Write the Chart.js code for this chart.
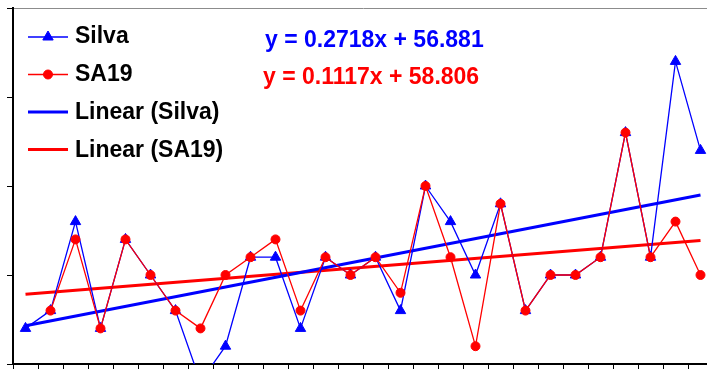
<!DOCTYPE html>
<html>
<head>
<meta charset="utf-8">
<script src="https://cdn.jsdelivr.net/npm/chart.js@4/dist/chart.umd.min.js"></script>
<style>
  html, body { margin: 0; padding: 0; background: #fff; overflow: hidden; }
  #wrap { position: relative; width: 720px; height: 380px; }
</style>
</head>
<body>
<div id="wrap"><canvas id="c" width="720" height="380"></canvas></div>
<script>
// Categories (sample number along the series)
const categories = ['1','2','3','4','5','6','7','8','9','10','11','12','13','14',
                    '15','16','17','18','19','20','21','22','23','24','25','26','27','28'];

// Measured values
const silva = [57,58,63,57,62,60,58,54,56,61,61,57,61,60,61,58,65,63,60,64,58,60,60,61,68,61,72,67];
const sa19  = [null,58,62,57,62,60,58,57,60,61,62,58,61,60,61,59,65,61,56,64,58,60,60,61,68,61,63,60];

// Linear trend coefficients (y = slope * x + intercept, x = category number)
const silvaSlope = 0.2718, silvaIntercept = 56.881;
const sa19Slope  = 0.1117, sa19Intercept  = 58.806;

// Value axis
const yMin = 55, yMax = 75, yStep = 5;

const BLUE = '#0000ff';
const RED = '#ff0000';

function trendEnds(slope, intercept) {
  const first = 1, last = categories.length;
  return [
    { x: categories[first - 1], y: slope * first + intercept },
    { x: categories[last - 1],  y: slope * last + intercept }
  ];
}

const legendItems = [
  { text: 'Silva',          color: BLUE, width: 1.3, marker: 'triangle' },
  { text: 'SA19',           color: RED,  width: 1.3, marker: 'circle' },
  { text: 'Linear (Silva)', color: BLUE, width: 3,   marker: null },
  { text: 'Linear (SA19)',  color: RED,  width: 3,   marker: null }
];

const equations = [
  { text: 'y = ' + silvaSlope + 'x + ' + silvaIntercept, color: BLUE, x: 265, y: 47 },
  { text: 'y = ' + sa19Slope + 'x + ' + sa19Intercept,   color: RED,  x: 263, y: 84 }
];

function drawMarker(ctx, type, x, y, color) {
  ctx.save();
  ctx.fillStyle = color;
  ctx.strokeStyle = color;
  ctx.lineWidth = 1;
  ctx.beginPath();
  if (type === 'triangle') {
    const r = 6;
    ctx.moveTo(x, y - r);
    ctx.lineTo(x + r * Math.sin(2 * Math.PI / 3), y - r * Math.cos(2 * Math.PI / 3));
    ctx.lineTo(x + r * Math.sin(4 * Math.PI / 3), y - r * Math.cos(4 * Math.PI / 3));
    ctx.closePath();
  } else {
    ctx.arc(x, y, 4.5, 0, Math.PI * 2);
  }
  ctx.fill();
  ctx.stroke();
  ctx.restore();
}

const overlayText = {
  id: 'overlayText',
  afterDraw(chart) {
    const ctx = chart.ctx;
    ctx.save();
    // legend
    legendItems.forEach((it, i) => {
      const ly = 37 + i * 37.5;
      ctx.strokeStyle = it.color;
      ctx.lineWidth = it.width;
      ctx.beginPath();
      ctx.moveTo(28, ly);
      ctx.lineTo(68, ly);
      ctx.stroke();
      if (it.marker) drawMarker(ctx, it.marker, 48, ly, it.color);
      ctx.fillStyle = '#000';
      ctx.font = 'bold 23px "Liberation Sans", Arial, sans-serif';
      ctx.textBaseline = 'alphabetic';
      ctx.textAlign = 'left';
      ctx.fillText(it.text, 75, 43 + i * 38);
    });
    // trend equations
    equations.forEach(eq => {
      ctx.fillStyle = eq.color;
      ctx.font = 'bold 23px "Liberation Sans", Arial, sans-serif';
      ctx.fillText(eq.text, eq.x, eq.y);
    });
    ctx.restore();
  }
};

new Chart(document.getElementById('c'), {
  type: 'line',
  data: {
    labels: categories,
    datasets: [
      {
        label: 'Silva',
        data: silva,
        borderColor: BLUE,
        backgroundColor: BLUE,
        borderWidth: 1.3,
        pointStyle: 'triangle',
        pointRadius: 6,
        pointBorderWidth: 1,
        tension: 0,
        clip: 0,
        order: 1
      },
      {
        label: 'SA19',
        data: sa19,
        borderColor: RED,
        backgroundColor: RED,
        borderWidth: 1.3,
        pointStyle: 'circle',
        pointRadius: 4.5,
        pointBorderWidth: 1,
        tension: 0,
        spanGaps: false,
        clip: 0,
        order: 0
      },
      {
        label: 'Linear (Silva)',
        data: trendEnds(silvaSlope, silvaIntercept),
        borderColor: BLUE,
        borderWidth: 3,
        pointRadius: 0,
        tension: 0,
        clip: 0,
        order: 2
      },
      {
        label: 'Linear (SA19)',
        data: trendEnds(sa19Slope, sa19Intercept),
        borderColor: RED,
        borderWidth: 3,
        pointRadius: 0,
        tension: 0,
        clip: 0,
        order: 3
      }
    ]
  },
  options: {
    responsive: false,
    animation: false,
    devicePixelRatio: 1,
    layout: { padding: { top: 8, right: 7, left: 1, bottom: 0 } },
    plugins: {
      legend: { display: false },
      tooltip: { enabled: false }
    },
    scales: {
      x: {
        type: 'category',
        offset: true,
        grid: {
          offset: true,
          drawOnChartArea: false,
          tickLength: 6,
          tickColor: '#000',
          lineWidth: 1
        },
        border: { display: true, color: '#000', width: 2 },
        ticks: { display: false },
        afterFit(scale) { scale.height = 16; }
      },
      y: {
        min: yMin,
        max: yMax,
        ticks: { display: false, stepSize: yStep },
        grid: {
          drawOnChartArea: true,
          color: (c) => (c.tick && c.tick.value === yMax) ? '#8c8c8c' : 'rgba(0,0,0,0)',
          tickColor: '#000',
          tickLength: 6,
          lineWidth: 1
        },
        border: { display: true, color: '#000', width: 2 },
        afterFit(scale) { scale.width = 12; }
      }
    }
  },
  plugins: [overlayText]
});
</script>
</body>
</html>
